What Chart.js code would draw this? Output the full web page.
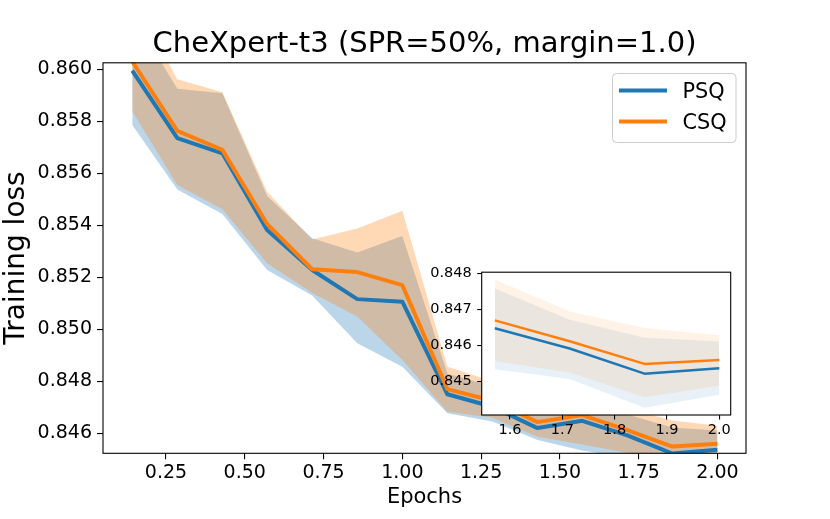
<!DOCTYPE html>
<html>
<head>
<meta charset="utf-8">
<script src="https://cdn.jsdelivr.net/npm/chart.js@4.4.0/dist/chart.umd.min.js"></script>
<style>
  body { margin: 0; background: white; }
  #wrap { position: relative; width: 830px; height: 519px; }
  #mainChart { position: absolute; left: 0; top: 0; }
  #insetChart { position: absolute; left: 425px; top: 258px; }
</style>
</head>
<body>
<div id="wrap">
  <canvas id="mainChart" width="830" height="519"></canvas>
  <canvas id="insetChart" width="320" height="190"></canvas>
</div>
<script>
// data
const epochs = [0.143, 0.286, 0.429, 0.571, 0.714, 0.857, 1.0, 1.143, 1.286, 1.429, 1.571, 1.714, 1.857, 2.0];

const psqMean  = [0.85995, 0.85735, 0.85677, 0.85382, 0.85228, 0.85116, 0.85106, 0.84750, 0.84702, 0.84620, 0.84648, 0.84592, 0.84522, 0.84537];
const psqUpper = [0.86210, 0.85925, 0.85908, 0.85513, 0.85350, 0.85295, 0.85359, 0.84830, 0.84780, 0.84750, 0.84759, 0.84672, 0.84622, 0.84611];
const psqLower = [0.85786, 0.85538, 0.85443, 0.85228, 0.85130, 0.84946, 0.84856, 0.84677, 0.84645, 0.84574, 0.84534, 0.84507, 0.84427, 0.84463];

const csqMean  = [0.86030, 0.85763, 0.85690, 0.85405, 0.85231, 0.85220, 0.85170, 0.84770, 0.84725, 0.84643, 0.84670, 0.84612, 0.84549, 0.84560];
const csqUpper = [0.86280, 0.85962, 0.85912, 0.85529, 0.85345, 0.85388, 0.85456, 0.84856, 0.84800, 0.84770, 0.84784, 0.84695, 0.84649, 0.84629];
const csqLower = [0.85839, 0.85555, 0.85462, 0.85254, 0.85140, 0.85049, 0.84882, 0.84683, 0.84660, 0.84587, 0.84557, 0.84525, 0.84456, 0.84488];

const xTicks = [0.25, 0.5, 0.75, 1.0, 1.25, 1.5, 1.75, 2.0];
const yTicks = [0.846, 0.848, 0.850, 0.852, 0.854, 0.856, 0.858, 0.860];
const insetXTicks = [1.6, 1.7, 1.8, 1.9, 2.0];
const insetYTicks = [0.845, 0.846, 0.847, 0.848];
const insetFrom = 10;

const BLUE = '#1f77b4';
const ORANGE = '#ff7f0e';
const FONT = 'DejaVu Sans';

function pts(xs, ys) {
    return xs.map((x, i) => ({ x: x, y: ys[i] }));
}

// bands first, lines on top of both bands
function buildSets(xs, pm, pu, pl, cm, cu, cl, bandAlpha, lw) {
    const edge = 'rgba(0,0,0,0)';
    return [
        { data: pts(xs, pu), fill: '+1', backgroundColor: 'rgba(31,119,180,' + bandAlpha + ')', borderColor: edge, borderWidth: 0, order: 4 },
        { data: pts(xs, pl), fill: false, borderColor: edge, borderWidth: 0, order: 4 },
        { label: 'PSQ', data: pts(xs, pm), fill: false, borderColor: BLUE, borderWidth: lw, order: 2, clip: 0 },
        { data: pts(xs, cu), fill: '+1', backgroundColor: 'rgba(255,127,14,' + bandAlpha + ')', borderColor: edge, borderWidth: 0, order: 3 },
        { data: pts(xs, cl), fill: false, borderColor: edge, borderWidth: 0, order: 3 },
        { label: 'CSQ', data: pts(xs, cm), fill: false, borderColor: ORANGE, borderWidth: lw, order: 1, clip: 0 }
    ];
}

function axis(min, max, tickList, digits, size, pad, tickLen, fit) {
    return {
        type: 'linear',
        min: min,
        max: max,
        afterBuildTicks: s => { s.ticks = tickList.map(v => ({ value: v })); },
        afterFit: fit,
        ticks: {
            callback: v => Number(v).toFixed(digits),
            font: { family: FONT, size: size },
            color: '#000',
            padding: pad,
            autoSkip: false,
            maxRotation: 0
        },
        grid: { display: true, drawOnChartArea: false, drawTicks: true, tickLength: tickLen, color: '#000', lineWidth: 1.1 },
        border: { display: false }
    };
}

// matplotlib style box round the axes
const frame = {
    id: 'frame',
    beforeDraw(chart, args, opts) {
        if (!opts.white) return;
        const a = chart.chartArea;
        const ctx = chart.ctx;
        ctx.save();
        ctx.fillStyle = '#fff';
        ctx.fillRect(a.left, a.top, a.right - a.left, a.bottom - a.top);
        ctx.restore();
    },
    afterDatasetsDraw(chart) {
        const a = chart.chartArea;
        const ctx = chart.ctx;
        ctx.save();
        ctx.strokeStyle = '#000';
        ctx.lineWidth = 1.1;
        ctx.strokeRect(a.left, a.top, a.right - a.left, a.bottom - a.top);
        ctx.restore();
    }
};

// legend box in the upper right
const boxLegend = {
    id: 'boxLegend',
    afterDraw(chart) {
        const ctx = chart.ctx;
        const x = 612.5, y = 73.5, w = 123.5, h = 69, r = 4;
        ctx.save();
        ctx.fillStyle = 'rgba(255,255,255,0.8)';
        ctx.strokeStyle = '#cccccc';
        ctx.lineWidth = 1;
        ctx.beginPath();
        ctx.roundRect(x, y, w, h, r);
        ctx.fill();
        ctx.stroke();
        const items = [['PSQ', BLUE, 90.5], ['CSQ', ORANGE, 121.5]];
        items.forEach(it => {
            ctx.strokeStyle = it[1];
            ctx.lineWidth = 4;
            ctx.lineCap = 'butt';
            ctx.beginPath();
            ctx.moveTo(619, it[2]);
            ctx.lineTo(667, it[2]);
            ctx.stroke();
            ctx.fillStyle = '#000';
            ctx.font = '20.8px "' + FONT + '"';
            ctx.textBaseline = 'alphabetic';
            ctx.fillText(it[0], 682.5, it[2] + 7.8);
        });
        ctx.restore();
    }
};

const xMain = axis(0.0502, 2.0906, xTicks, 2, 19, 2, 6, s => { s.height = 65.7; });
xMain.title = { display: true, text: 'Epochs', color: '#000', font: { family: FONT, size: 21 }, padding: { top: 0, bottom: 9 } };
const yMain = axis(0.84523, 0.86025, yTicks, 3, 19, 5, 6, s => { s.width = 103; });
yMain.title = { display: true, text: 'Training loss', color: '#000', font: { family: FONT, size: 28 }, padding: { top: 0, bottom: 0 } };

new Chart(document.getElementById('mainChart'), {
    type: 'line',
    data: { datasets: buildSets(epochs, psqMean, psqUpper, psqLower, csqMean, csqUpper, csqLower, 0.3, 4) },
    options: {
        responsive: false,
        animation: false,
        events: [],
        layout: { padding: { left: 0, right: 84, top: 0, bottom: 0 } },
        elements: { point: { radius: 0 }, line: { tension: 0, borderJoinStyle: 'round' } },
        scales: { x: xMain, y: yMain },
        plugins: {
            legend: { display: false },
            tooltip: { enabled: false },
            title: {
                display: true,
                fullSize: false,
                text: 'CheXpert-t3 (SPR=50%, margin=1.0)',
                color: '#000',
                font: { family: FONT, size: 29, weight: 'normal' },
                padding: { top: 27, bottom: 1 }
            },
            frame: { white: false }
        }
    },
    plugins: [frame, boxLegend]
});

// zoomed inset of the last epochs
const ix = epochs.slice(insetFrom);
const sl = a => a.slice(insetFrom);

new Chart(document.getElementById('insetChart'), {
    type: 'line',
    data: { datasets: buildSets(ix, sl(psqMean), sl(psqUpper), sl(psqLower), sl(csqMean), sl(csqUpper), sl(csqLower), 0.1, 2.5) },
    options: {
        responsive: false,
        animation: false,
        events: [],
        layout: { padding: { left: 0, right: 14.3, top: 11.3, bottom: 0 } },
        elements: { point: { radius: 0 }, line: { tension: 0, borderJoinStyle: 'round' } },
        scales: {
            x: axis(1.5459, 2.0218, insetXTicks, 1, 14.5, 2.5, 4.5, s => { s.height = 33; }),
            y: axis(0.84407, 0.84804, insetYTicks, 3, 14.5, 5.5, 4.5, s => { s.width = 56.7; })
        },
        plugins: {
            legend: { display: false },
            tooltip: { enabled: false },
            frame: { white: true }
        }
    },
    plugins: [frame]
});
</script>
</body>
</html>
